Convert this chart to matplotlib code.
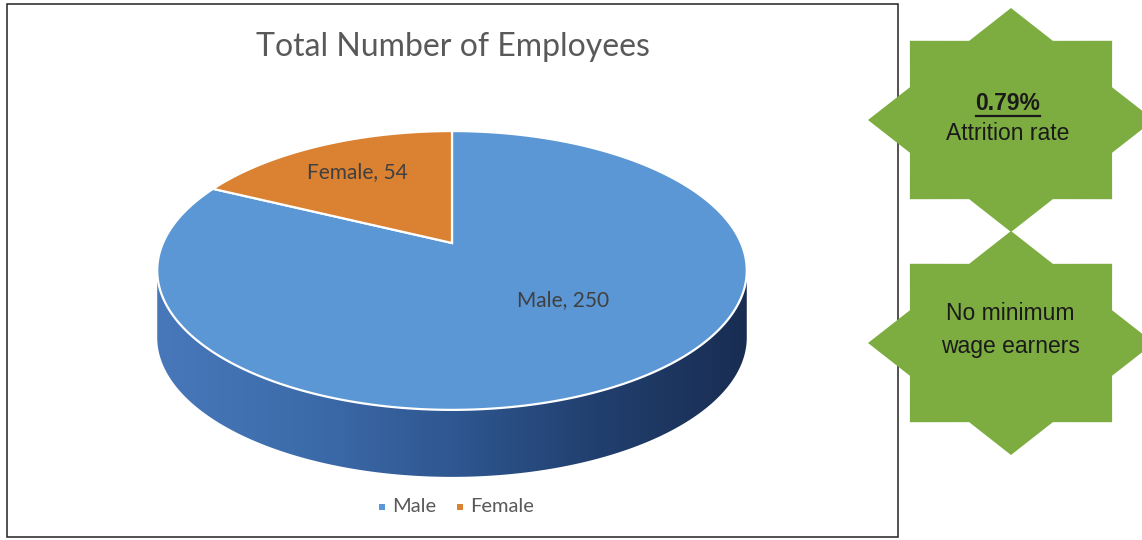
import numpy as np
import matplotlib
matplotlib.use("Agg")
import matplotlib.pyplot as plt
from matplotlib.patches import Polygon, Rectangle
from matplotlib.colors import LinearSegmentedColormap

# ---------------- data ----------------
categories = ["Male", "Female"]
counts = [250, 54]
slice_colors = ["#5b97d5", "#da8132"]
chart_title = "Total Number of Employees"
star_headlines = ["0.79%", None]
star_bodies = ["Attrition rate", "No minimum\nwage earners"]

# ---------------- figure ----------------
W, H = 1142, 540
fig = plt.figure(figsize=(W / 100, H / 100), dpi=100)
ax = fig.add_axes([0, 0, 1, 1])
ax.set_xlim(0, W)
ax.set_ylim(H, 0)
ax.axis("off")

# chart frame
ax.add_patch(Rectangle((7, 4), 891, 533, fill=False, ec="#222222", lw=1.1, zorder=1))

# title
ax.text(453, 47, chart_title, ha="center", va="center", fontsize=23,
        family="Lato", color="#595959", zorder=5)

# ---------------- 3D pie (perspective projection) ----------------
CX, CY = 452, 243        # projected pie centre
A, B, K = 289, 134, 0.197
DEPTH = 67


def proj(theta, r=1.0):
    u = r * np.cos(theta)
    v = r * np.sin(theta)
    d = 1 + K * v
    return CX + A * u / d, CY - B * v / d


# side wall (front half)
t_side = np.linspace(np.pi + np.arcsin(K), 2 * np.pi - np.arcsin(K), 300)
xs, ys = proj(t_side)
side_pts = np.column_stack([np.r_[xs, xs[::-1]], np.r_[ys, ys[::-1] + DEPTH]])
side_patch = Polygon(side_pts, closed=True, fc="none", ec="none", zorder=2)
ax.add_patch(side_patch)
side_cmap = LinearSegmentedColormap.from_list(
    "side", ["#4878ba", "#3d6cab", "#2f5791", "#213f6e", "#192d52"])
grad = np.linspace(0, 1, 256).reshape(1, -1)
im = ax.imshow(grad, cmap=side_cmap, aspect="auto",
               extent=(xs.min(), xs.max(), ys.max() + DEPTH + 2, ys.min() - 2),
               zorder=2, interpolation="bilinear")
im.set_clip_path(side_patch)
ax.set_xlim(0, W)
ax.set_ylim(H, 0)

# top face wedges: first slice starts at 12 o'clock, going clockwise
total = float(sum(counts))
start = np.pi / 2
for val, col in zip(counts, slice_colors):
    sweep = 2 * np.pi * val / total
    t = np.linspace(start, start - sweep, 400)
    px, py = proj(t)
    pts = np.column_stack([np.r_[CX, px], np.r_[CY, py]])
    ax.add_patch(Polygon(pts, closed=True, fc=col, ec="white", lw=1.6,
                         joinstyle="miter", zorder=3))
    start -= sweep

# data labels
label_pos = {"Male": (563, 300), "Female": (357, 172)}
for cat, val in zip(categories, counts):
    x, y = label_pos[cat]
    ax.text(x, y, f"{cat}, {val}", ha="center", va="center", fontsize=15,
            family="Lato", color="#404040", zorder=6)

# legend
legend_x = [(382, 392), (460, 470)]
for (mx, tx), cat, col in zip(legend_x, categories, slice_colors):
    ax.plot([mx], [507], marker="s", ms=5, color=col, mew=0, zorder=6)
    ax.text(tx, 507, cat, ha="left", va="center", fontsize=14.5,
            family="Lato", color="#595959", zorder=6)

# ---------------- 8-point stars ----------------
STAR_GREEN = "#7dad40"


def star8(cx, cy, rx, ry, inner=0.765):
    ang = np.pi / 2 + np.arange(16) * np.pi / 8
    r = np.where(np.arange(16) % 2 == 0, 1.0, inner)
    return np.column_stack([cx + rx * r * np.cos(ang), cy - ry * r * np.sin(ang)])


star_centres = [(1011, 120), (1011, 343)]
for (cx, cy) in star_centres:
    ax.add_patch(Polygon(star8(cx, cy, 143, 112), closed=True, fc=STAR_GREEN,
                         ec="none", zorder=4))

fig.canvas.draw()
renderer = fig.canvas.get_renderer()

# star 1 text
hl = ax.text(1008, 104, star_headlines[0], ha="center", va="center", fontsize=16.5,
             family="Liberation Sans", weight="bold", color="#1a1a1a", zorder=6)
ax.text(1008, 134, star_bodies[0], ha="center", va="center", fontsize=16.5,
        family="Liberation Sans", color="#1a1a1a", zorder=6)
bb = hl.get_window_extent(renderer=renderer)
inv = ax.transData.inverted()
(x0, y0), (x1, y1) = inv.transform([[bb.x0, bb.y0], [bb.x1, bb.y1]])
ax.plot([x0, x1], [116, 116], color="#1a1a1a", lw=1.6, zorder=6)

# star 2 text
ax.text(1010, 330, star_bodies[1], ha="center", va="center", fontsize=16.5,
        family="Liberation Sans", color="#1a1a1a", linespacing=1.6, zorder=6)

fig.savefig("out.png", dpi=100)
